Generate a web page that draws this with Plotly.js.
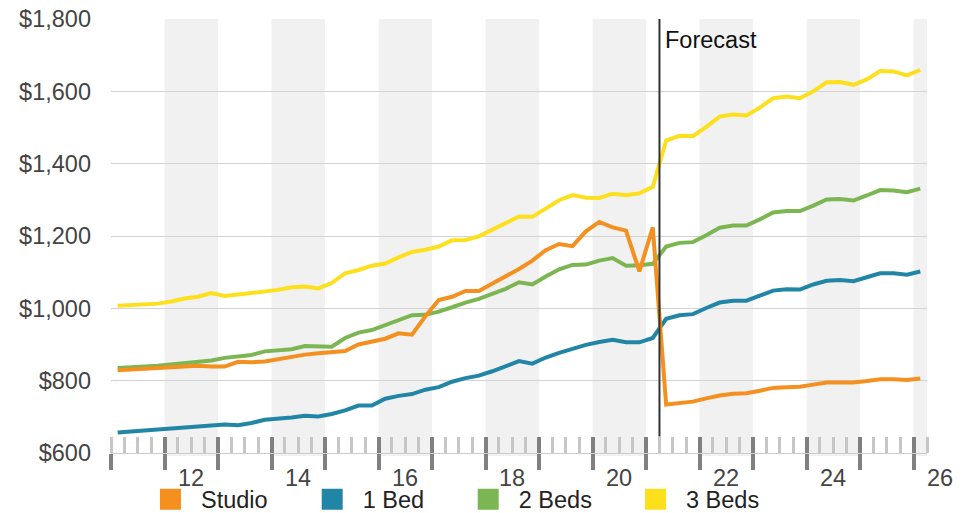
<!DOCTYPE html>
<html><head><meta charset="utf-8">
<script src="https://cdn.plot.ly/plotly-3.0.1.min.js"></script>
<style>html,body{margin:0;padding:0;background:#fff}#chart{width:974px;height:513px}</style>
</head><body><div id="chart"></div>
<script>
// Quarterly average rent, Q1 2011 .. Q1 2026 (forecast from Q2 2021)
const seriesNames = ["Studio", "1 Bed", "2 Beds", "3 Beds"];
const seriesColors = ["#F4901F", "#2186A6", "#7CB653", "#FDE01D"];

const studio = [829,831,832,834,836,839,841,839,839,852,851,853,860,867,872,876,880,882,900,909,
  916,931,927,978,1023,1032,1048,1048,1068,1088,1109,1132,1161,1178,1172,1213,1239,1224,1215,1102,
  1224,734,739,742,751,759,764,765,772,780,782,783,789,795,795,795,799,804,804,802,806];
const bed1 = [657,660,661,665,667,670,673,676,679,677,683,692,694,698,703,701,708,718,731,731,
  750,758,763,775,782,797,807,814,826,839,854,847,864,877,888,899,907,913,906,906,
  918,971,981,984,1001,1016,1021,1021,1035,1049,1053,1052,1066,1076,1078,1075,1086,1097,1097,1093,1102];
const bed2 = [835,838,839,841,845,850,853,856,863,867,871,881,883,887,896,894,894,918,933,940,
  953,968,981,982,991,1003,1016,1026,1039,1054,1072,1066,1088,1108,1120,1121,1132,1139,1118,1119,
  1123,1171,1181,1183,1202,1223,1229,1229,1246,1265,1269,1269,1284,1301,1302,1298,1312,1327,1326,1321,1331];
const bed3 = [1007,1009,1010,1013,1019,1027,1032,1042,1034,1038,1042,1048,1051,1058,1060,1055,1070,1097,1106,1118,
  1124,1141,1156,1162,1171,1188,1189,1199,1217,1238,1254,1253,1275,1299,1313,1306,1305,1317,1313,1318,
  1336,1464,1477,1476,1502,1530,1536,1533,1555,1581,1586,1581,1600,1625,1626,1618,1633,1656,1655,1644,1659];

const firstYear = 2011;          // series starts Q1 2011
const forecastStart = 2021.25;   // forecast begins Q2 2021
const tickYears = [2012, 2014, 2016, 2018, 2020, 2022, 2024, 2026];
const tickLabels = ["12", "14", "16", "18", "20", "22", "24", "26"];
const yTickVals = [600, 800, 1000, 1200, 1400, 1600, 1800];
const yTickText = ["$600", "$800", "$1,000", "$1,200", "$1,400", "$1,600", "$1,800"];

const xMin = 2011, xMax = 2026.25, yMin = 600, yMax = 1800;
const FONT = "Liberation Sans, Arial, Helvetica, sans-serif";
const FS = 23.5;

// quarter mid-points
const quarterX = studio.map((_, i) => firstYear + (i + 0.5) / 4);
const values = [studio, bed1, bed2, bed3];

const traces = [];
[3, 2, 1, 0].forEach(k => {
  traces.push({
    type: "scatter", mode: "lines", x: quarterX, y: values[k], name: seriesNames[k],
    line: {color: seriesColors[k], width: 4}, showlegend: false, hoverinfo: "skip"
  });
});
const legendIds = ["legend", "legend2", "legend3", "legend4"];
seriesNames.forEach((n, k) => {
  traces.push({
    type: "scatter", mode: "markers", x: [null], y: [null], name: n, xaxis: "x2",
    marker: {symbol: "square", size: 16, color: seriesColors[k], line: {color: seriesColors[k], width: 5}},
    showlegend: true, legend: legendIds[k], hoverinfo: "skip"
  });
});

// year boundaries for ticks and alternating bands
const yearBounds = [];
for (let y = Math.ceil(xMin); y <= Math.floor(xMax); y++) yearBounds.push(y);

const shapes = [];
yearBounds.filter(y => y % 2 === 0).forEach(y => {
  shapes.push({type: "rect", xref: "x", yref: "paper", x0: y, x1: Math.min(y + 1, xMax),
    y0: -0.007, y1: 1, fillcolor: "#f1f1f1", line: {width: 0}, layer: "below"});
});
shapes.push({type: "line", xref: "x", yref: "paper", x0: forecastStart, x1: forecastStart,
  y0: 0.038, y1: 1, line: {color: "#333333", width: 2}, layer: "above"});

const annotations = tickYears.map((y, i) => ({
  xref: "paper", yref: "paper", x: (y + 0.5 - xMin) / (xMax - xMin), y: -0.0565,
  xanchor: "center", yanchor: "middle", showarrow: false, text: tickLabels[i],
  font: {family: FONT, size: FS, color: "#444444"}
}));
annotations.push({xref: "x", yref: "paper", x: forecastStart, y: 0.952, xanchor: "left", yanchor: "middle",
  xshift: 4, showarrow: false, text: "Forecast", font: {family: FONT, size: FS, color: "#111111"}});

const legendX = [0.0355, 0.2337, 0.4249, 0.6299];
const layout = {
  width: 974, height: 513,
  margin: {l: 111, r: 47, t: 19, b: 60, autoexpand: false},
  paper_bgcolor: "#ffffff", plot_bgcolor: "rgba(0,0,0,0)",
  font: {family: FONT, size: FS, color: "#444444"},
  hovermode: false,
  xaxis: {
    range: [xMin, xMax], showgrid: false, zeroline: false, showline: true, linecolor: "#cccccc", linewidth: 1,
    tickmode: "array", tickvals: yearBounds, ticks: "outside", ticklen: 16, tickwidth: 4, tickcolor: "#808080",
    showticklabels: false, fixedrange: true, automargin: false,
    minor: {tickmode: "linear", tick0: xMin, dtick: 0.25, ticks: "inside", ticklen: 16, tickwidth: 3,
      tickcolor: "#c6c6c6", showgrid: false}
  },
  xaxis2: {
    overlaying: "x", anchor: "y", range: [xMin, xMax], showgrid: false, zeroline: false, showline: false,
    tickmode: "array", tickvals: yearBounds, ticks: "inside", ticklen: 16, tickwidth: 4, tickcolor: "#808080",
    showticklabels: false, fixedrange: true, automargin: false
  },
  yaxis: {
    range: [yMin, yMax], tickmode: "array", tickvals: yTickVals, ticktext: yTickText,
    showgrid: true, gridcolor: "#d3d3d3", gridwidth: 1, zeroline: false, showline: false, ticks: "",
    ticklabelstandoff: 19, tickfont: {family: FONT, size: FS, color: "#444444"}, fixedrange: true, automargin: false
  },
  shapes: shapes,
  annotations: annotations
};
legendIds.forEach((id, k) => {
  layout[id] = {orientation: "h", x: legendX[k], xanchor: "left", y: -0.107, yanchor: "middle",
    itemwidth: 51, bgcolor: "rgba(0,0,0,0)", borderwidth: 0,
    font: {family: FONT, size: FS, color: "#222222"}};
});

Plotly.newPlot("chart", traces, layout, {displayModeBar: false, staticPlot: true});
</script>
</body></html>
